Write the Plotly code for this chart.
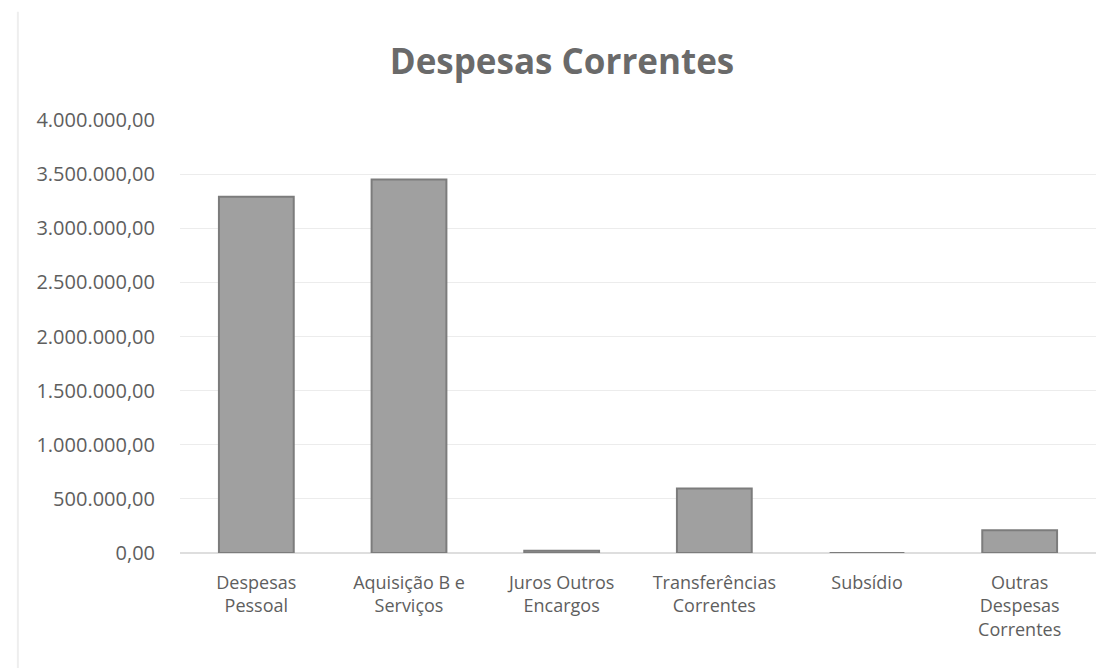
import plotly.graph_objects as go

categories = [
    "Despesas<br>Pessoal",
    "Aquisição B e<br>Serviços",
    "Juros Outros<br>Encargos",
    "Transferências<br>Correntes",
    "Subsídio",
    "Outras<br>Despesas<br>Correntes",
]
values = [3290000, 3450000, 20000, 595000, 0, 210000]
y_ticks = [0, 500000, 1000000, 1500000, 2000000, 2500000, 3000000, 3500000, 4000000]

_TEXT = "#5e5e5e"

fig = go.Figure(
    go.Bar(
        x=categories,
        y=values,
        width=0.49,
        marker=dict(color="#a0a0a0", line=dict(color="#7c7c7c", width=2)),
    )
)

fig.update_layout(
    width=1108,
    height=668,
    paper_bgcolor="white",
    plot_bgcolor="white",
    separators=",.",
    font=dict(family="Open Sans, sans-serif", color=_TEXT, size=18),
    title=dict(
        text="<b>Despesas Correntes</b>",
        x=0.5,
        xanchor="center",
        y=0.92,
        yanchor="middle",
        font=dict(size=35, color="#6a6a6a"),
    ),
    margin=dict(l=172, r=20, t=112, b=123),
    showlegend=False,
    xaxis=dict(
        showline=False,
        ticks="",
        ticklabelstandoff=17,
        tickfont=dict(size=18, color=_TEXT),
    ),
    yaxis=dict(
        range=[0, 4000000],
        tickvals=y_ticks,
        tickformat=",.2f",
        showgrid=True,
        gridcolor="#ececec",
        gridwidth=1,
        zeroline=True,
        zerolinecolor="#dedede",
        ticks="",
        ticklabelstandoff=24,
        tickfont=dict(size=20, color=_TEXT),
        automargin=False,
    ),
)

fig.add_shape(
    type="line", xref="paper", yref="paper",
    x0=-0.177, x1=-0.177, y0=-0.3, y1=1.25,
    line=dict(color="#eeeeee", width=2),
)

fig.write_html("out.html")
